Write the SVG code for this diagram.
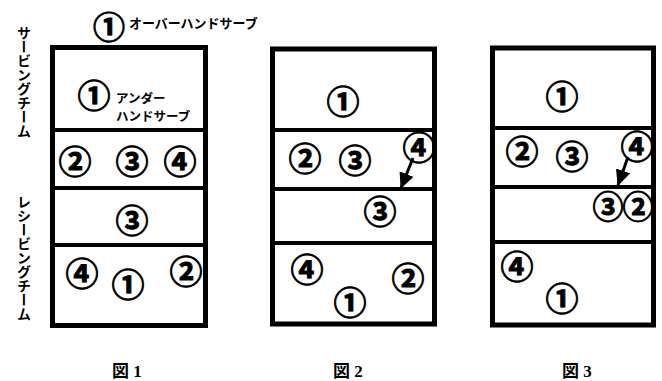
<svg xmlns="http://www.w3.org/2000/svg" width="662" height="381" viewBox="0 0 662 381">
<style>
.court{fill:none;stroke:#000;stroke-width:5}
.div{stroke:#000;stroke-width:4}
.c{font-family:"Noto Sans CJK JP",sans-serif;font-weight:bold;font-size:33px;text-anchor:middle;dominant-baseline:central;fill:#000;stroke:#000;stroke-width:0.9}
.lbl{font-family:"Noto Sans CJK JP",sans-serif;font-weight:bold;font-size:13px;fill:#000}
.vert{font-family:"Noto Sans CJK JP",sans-serif;font-weight:bold;font-size:14px;writing-mode:vertical-rl;fill:#000}
.cap{font-family:"Liberation Serif","Noto Sans CJK JP",serif;font-weight:bold;font-size:17px;fill:#000}
.arr{stroke:#000;stroke-width:3;fill:none;marker-end:url(#ah)}
</style>
<defs>
<marker id="ah" markerUnits="userSpaceOnUse" markerWidth="16" markerHeight="15" refX="15" refY="7.5" orient="auto" viewBox="0 0 16 15">
<path d="M0,0 L16,7.5 L0,15 z" fill="#000"/>
</marker>
</defs>
<rect width="662" height="381" fill="#fff"/>

<g id="labels">
<text class="vert" x="24" y="26">サービングチーム</text>
<text class="vert" x="24" y="195">レシービングチーム</text>
<text class="c" x="109" y="25" style="font-size:32px">①</text>
<text class="lbl" x="129" y="28">オーバーハンドサーブ</text>
</g>

<g id="fig1">
<rect class="court" x="52.5" y="47.5" width="153" height="278"/>
<line class="div" x1="52" y1="130" x2="206" y2="130"/>
<line class="div" x1="52" y1="188" x2="206" y2="188"/>
<line class="div" x1="52" y1="245" x2="206" y2="245"/>
<text class="c" x="94" y="94">①</text>
<text class="lbl" x="116" y="103" style="font-size:12.5px">アンダー</text>
<text class="lbl" x="116" y="121" style="font-size:12.5px">ハンドサーブ</text>
<text class="c" x="75" y="160">②</text>
<text class="c" x="132" y="160">③</text>
<text class="c" x="180" y="160">④</text>
<text class="c" x="132" y="219">③</text>
<text class="c" x="82" y="272">④</text>
<text class="c" x="128" y="283">①</text>
<text class="c" x="186" y="270">②</text>
<text class="cap" x="112" y="377">図 1</text>
</g>

<g id="fig2">
<rect class="court" x="272.5" y="49" width="162" height="275"/>
<line class="div" x1="272" y1="130" x2="435" y2="130"/>
<line class="div" x1="272" y1="189" x2="435" y2="189"/>
<line class="div" x1="272" y1="243" x2="435" y2="243"/>
<text class="c" x="343" y="100">①</text>
<text class="c" x="305" y="157">②</text>
<text class="c" x="355" y="159">③</text>
<text class="c" x="419" y="146">④</text>
<text class="c" x="380" y="210">③</text>
<text class="c" x="307" y="268">④</text>
<text class="c" x="408" y="277">②</text>
<text class="c" x="350" y="301">①</text>
<text class="cap" x="333" y="377">図 2</text>
</g>

<g id="fig3">
<rect class="court" x="492.5" y="48" width="161" height="277"/>
<line class="div" x1="492" y1="128" x2="654" y2="128"/>
<line class="div" x1="492" y1="187" x2="654" y2="187"/>
<line class="div" x1="492" y1="242" x2="654" y2="242"/>
<text class="c" x="562" y="95">①</text>
<text class="c" x="522" y="150">②</text>
<text class="c" x="572" y="155">③</text>
<text class="c" x="637" y="145">④</text>
<text class="c" x="608" y="204" style="font-size:31px">③</text>
<text class="c" x="638" y="204" style="font-size:31px">②</text>
<text class="c" x="517" y="265">④</text>
<text class="c" x="562" y="297">①</text>
<text class="cap" x="562" y="377">図 3</text>
</g>

<g id="connectors">
<line class="arr" x1="413" y1="158" x2="401" y2="188"/>
<line class="arr" x1="628" y1="157" x2="618" y2="185"/>
</g>
</svg>
